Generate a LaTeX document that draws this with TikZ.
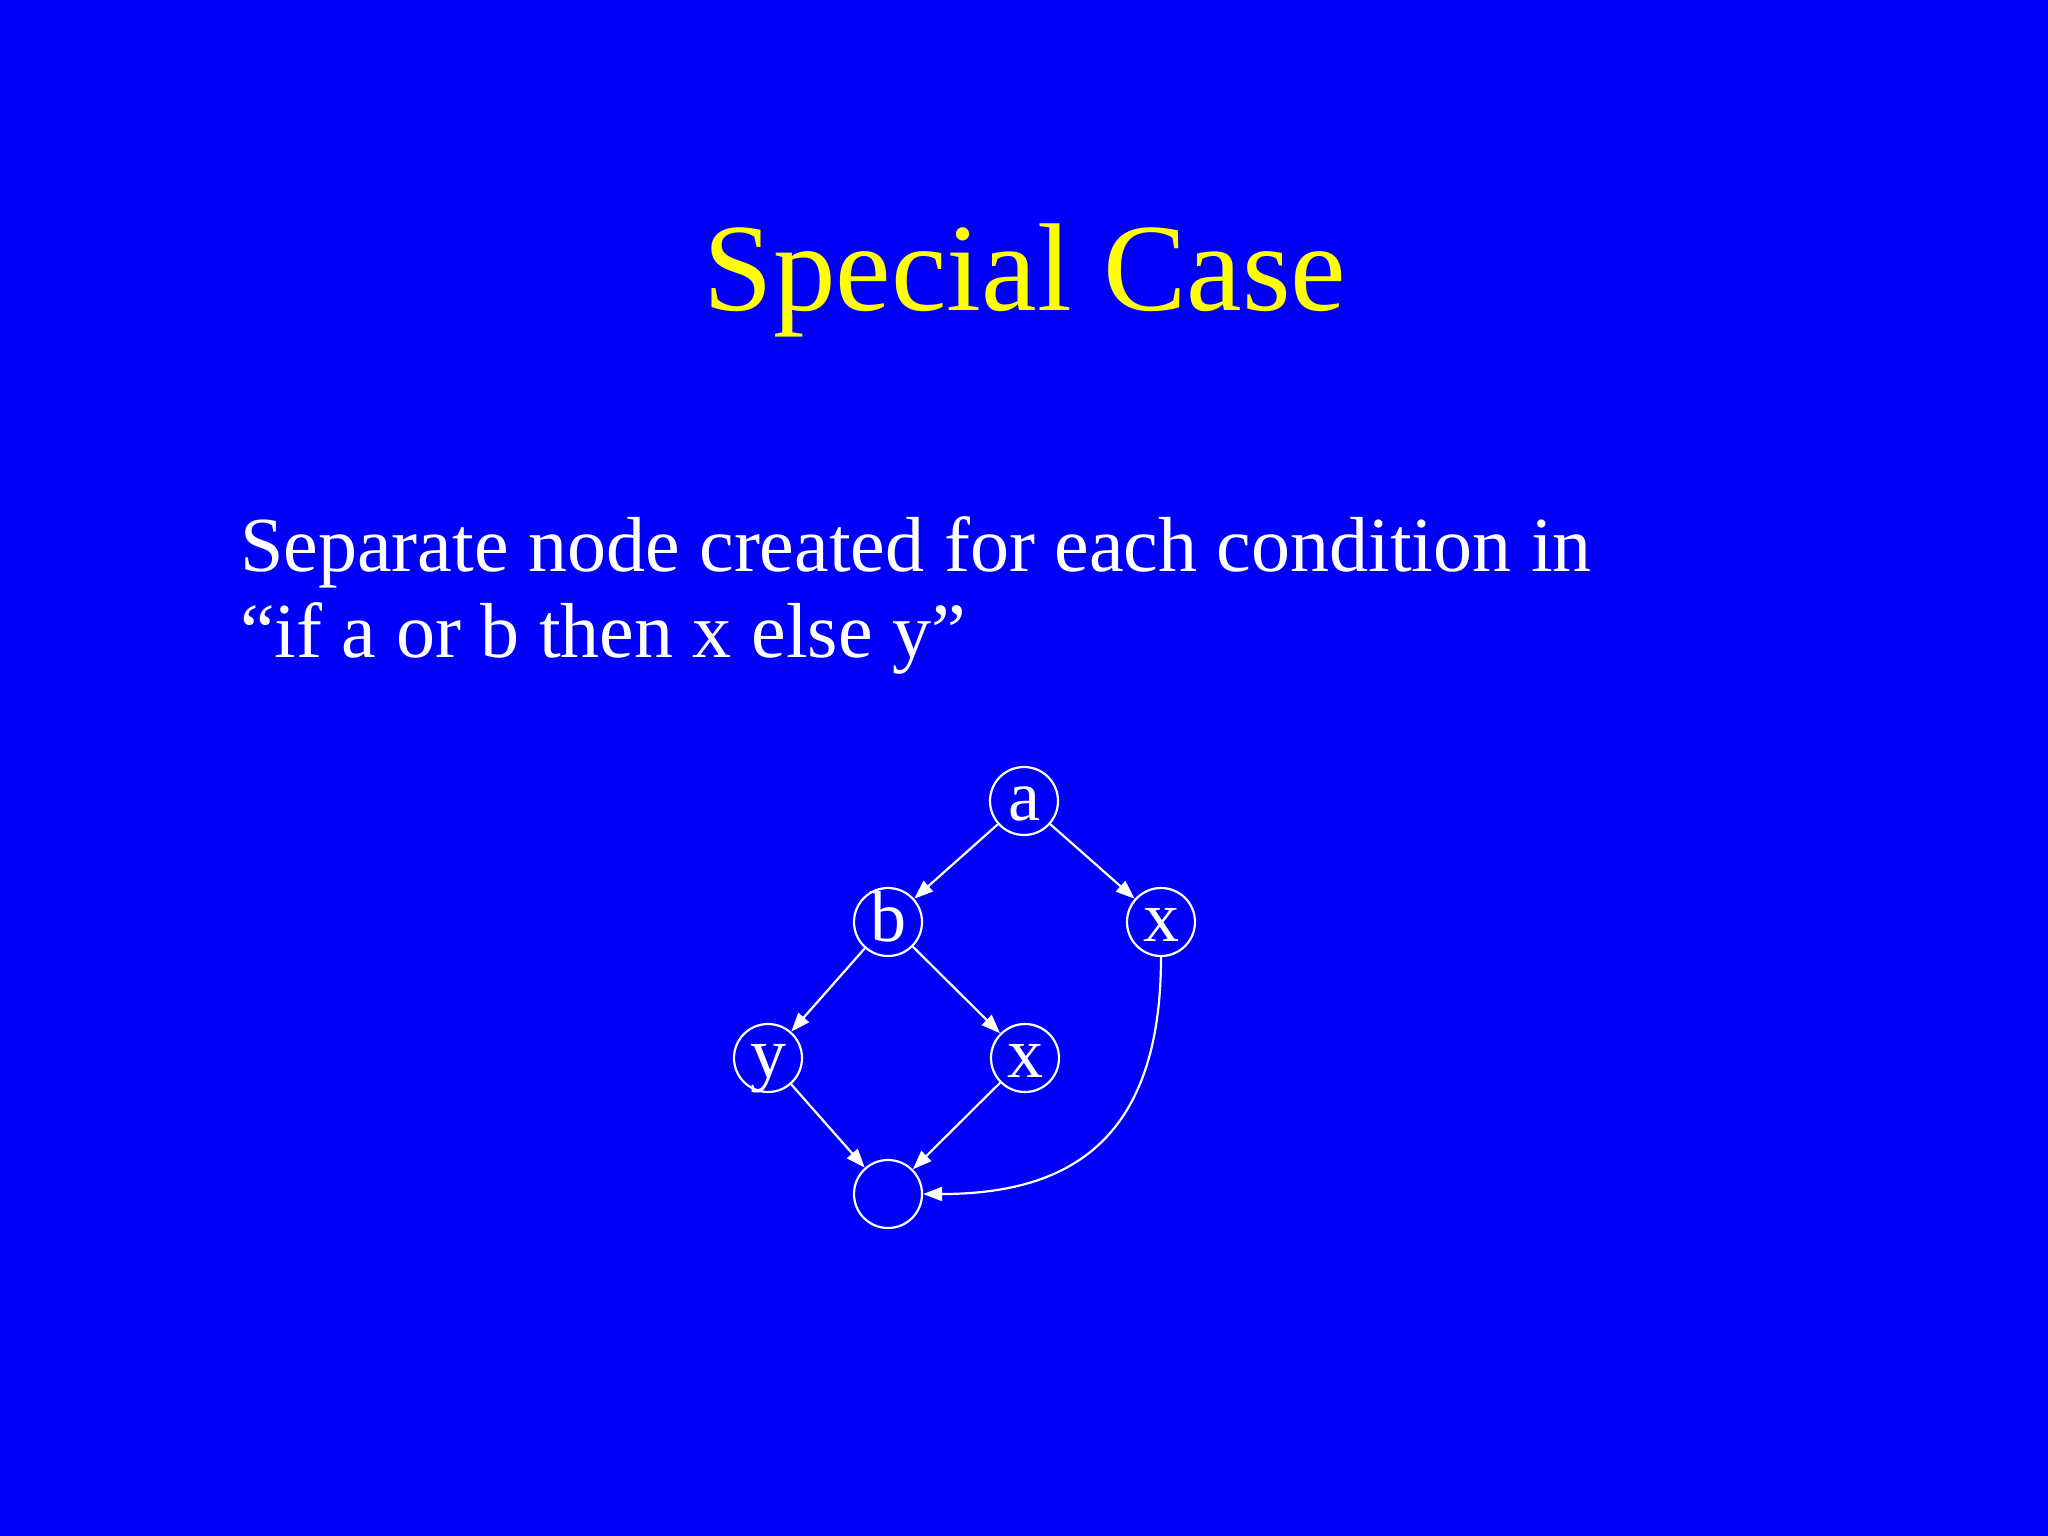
\documentclass[tikz,border=0pt]{standalone}
\usepackage{fontspec}
\setmainfont{Liberation Serif}
\usetikzlibrary{arrows.meta}
\definecolor{bg}{RGB}{0,0,250}
\definecolor{ttl}{RGB}{255,255,0}
\begin{document}
\begin{tikzpicture}[x=1pt,y=-1pt,
 vert/.style={circle,draw=white,line width=2.2pt,minimum size=68pt,inner sep=0pt,text=white,font=\fontsize{72}{72}\selectfont,text height=38pt,text depth=0pt},
 edge/.style={draw=white,line width=2.2pt,-{Triangle[length=19pt,width=14pt]}},
 bodytext/.style={text=white,font=\fontsize{78}{86}\selectfont,anchor=base west,inner sep=0pt}]
\fill[bg] (0,0) rectangle (2048,1536);
\useasboundingbox (0,0) rectangle (2048,1536);
\node[text=ttl,font=\fontsize{125}{125}\selectfont,anchor=base,inner sep=0pt] (title) at (1025,310) {Special Case};
\node[bodytext] (line1) at (240,571) {Separate node created for each condition in};
\node[bodytext] (line2) at (240,657) {“if a or b then x else y”};
\node[vert] (a) at (1024,801) {a};
\node[vert] (b) at (888,922) {b};
\node[vert] (xr) at (1161,922) {x};
\node[vert] (y) at (768,1058) {y};
\node[vert] (xm) at (1025,1058) {x};
\node[vert] (e) at (888,1194) {};
\draw[edge] (a) -- (b);
\draw[edge] (a) -- (xr);
\draw[edge] (b) -- (y);
\draw[edge] (b) -- (xm);
\draw[edge] (y) -- (e);
\draw[edge] (xm) -- (e);
\draw[edge] (xr.south) .. controls (1161,1135) and (1075,1194) .. (e.east);
\end{tikzpicture}
\end{document}
